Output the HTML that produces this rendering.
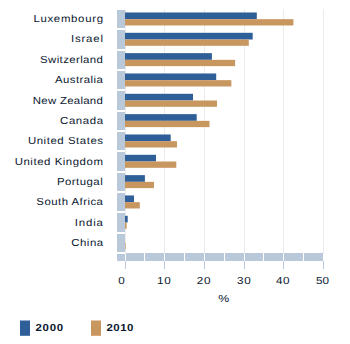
<!DOCTYPE html><html><head><meta charset="utf-8"><style>html,body{margin:0;padding:0;background:#fff;width:350px;height:344px;overflow:hidden}svg{display:block}text{font-family:"Liberation Sans",sans-serif;fill:#0b1830;text-rendering:geometricPrecision}</style></head><body>
<svg width="350" height="344" viewBox="0 0 350 344">
<rect x="125" y="9" width="1" height="245" fill="#ebebeb"/>
<rect x="164" y="9" width="1" height="245" fill="#ebebeb"/>
<rect x="204" y="9" width="1" height="245" fill="#ebebeb"/>
<rect x="244" y="9" width="1" height="245" fill="#ebebeb"/>
<rect x="283" y="9" width="1" height="245" fill="#ebebeb"/>
<rect x="323" y="9" width="1" height="245" fill="#ebebeb"/>
<rect x="117" y="254" width="8" height="7" fill="#b9c9d9"/>
<rect x="126" y="253" width="18" height="8" fill="#b9c9d9"/>
<rect x="145" y="253" width="19" height="8" fill="#b9c9d9"/>
<rect x="165" y="253" width="19" height="8" fill="#b9c9d9"/>
<rect x="185" y="253" width="19" height="8" fill="#b9c9d9"/>
<rect x="205" y="253" width="19" height="8" fill="#b9c9d9"/>
<rect x="225" y="253" width="19" height="8" fill="#b9c9d9"/>
<rect x="245" y="253" width="18" height="8" fill="#b9c9d9"/>
<rect x="264" y="253" width="19" height="8" fill="#b9c9d9"/>
<rect x="284" y="253" width="19" height="8" fill="#b9c9d9"/>
<rect x="304" y="253" width="19" height="8" fill="#b9c9d9"/>
<rect x="125" y="261" width="1" height="8" fill="#b9c9d9"/>
<rect x="164" y="261" width="1" height="8" fill="#b9c9d9"/>
<rect x="204" y="261" width="1" height="8" fill="#b9c9d9"/>
<rect x="244" y="261" width="1" height="8" fill="#b9c9d9"/>
<rect x="283" y="261" width="1" height="8" fill="#b9c9d9"/>
<rect x="323" y="261" width="1" height="8" fill="#b9c9d9"/>
<rect x="117" y="10" width="8" height="18" fill="#b9c9d9"/>
<rect x="125.00" y="12.47" width="131.80" height="6.70" fill="#2f5f98"/>
<rect x="125.00" y="19.17" width="168.40" height="6.30" fill="#c8965f"/>
<rect x="117" y="30" width="8" height="19" fill="#b9c9d9"/>
<rect x="125.00" y="32.80" width="127.70" height="6.70" fill="#2f5f98"/>
<rect x="125.00" y="39.50" width="123.80" height="6.30" fill="#c8965f"/>
<rect x="117" y="51" width="8" height="18" fill="#b9c9d9"/>
<rect x="125.00" y="53.13" width="86.90" height="6.70" fill="#2f5f98"/>
<rect x="125.00" y="59.83" width="110.10" height="6.30" fill="#c8965f"/>
<rect x="117" y="71" width="8" height="18" fill="#b9c9d9"/>
<rect x="125.00" y="73.47" width="91.20" height="6.70" fill="#2f5f98"/>
<rect x="125.00" y="80.17" width="106.35" height="6.30" fill="#c8965f"/>
<rect x="117" y="91" width="8" height="19" fill="#b9c9d9"/>
<rect x="125.00" y="93.80" width="68.00" height="6.70" fill="#2f5f98"/>
<rect x="125.00" y="100.50" width="92.00" height="6.30" fill="#c8965f"/>
<rect x="117" y="112" width="8" height="18" fill="#b9c9d9"/>
<rect x="125.00" y="114.13" width="71.70" height="6.70" fill="#2f5f98"/>
<rect x="125.00" y="120.83" width="84.50" height="6.30" fill="#c8965f"/>
<rect x="117" y="132" width="8" height="18" fill="#b9c9d9"/>
<rect x="125.00" y="134.47" width="45.70" height="6.70" fill="#2f5f98"/>
<rect x="125.00" y="141.17" width="52.00" height="6.30" fill="#c8965f"/>
<rect x="117" y="152" width="8" height="19" fill="#b9c9d9"/>
<rect x="125.00" y="154.80" width="31.00" height="6.70" fill="#2f5f98"/>
<rect x="125.00" y="161.50" width="51.30" height="6.30" fill="#c8965f"/>
<rect x="117" y="173" width="8" height="18" fill="#b9c9d9"/>
<rect x="125.00" y="175.13" width="19.90" height="6.70" fill="#2f5f98"/>
<rect x="125.00" y="181.83" width="29.00" height="6.30" fill="#c8965f"/>
<rect x="117" y="193" width="8" height="18" fill="#b9c9d9"/>
<rect x="125.00" y="195.47" width="9.00" height="6.70" fill="#2f5f98"/>
<rect x="125.00" y="202.17" width="14.80" height="6.30" fill="#c8965f"/>
<rect x="117" y="213" width="8" height="19" fill="#b9c9d9"/>
<rect x="125.00" y="215.80" width="2.70" height="6.70" fill="#2f5f98"/>
<rect x="125.00" y="222.50" width="1.60" height="6.30" fill="#c8965f"/>
<rect x="117" y="234" width="8" height="18" fill="#b9c9d9"/>
<rect x="125.00" y="242.83" width="0.60" height="6.30" fill="#c8965f"/>
<text transform="translate(33.42,22.00) scale(1.120,1)" font-size="10.2" textLength="62.16" lengthAdjust="spacing">Luxembourg</text>
<text transform="translate(71.04,42.00) scale(1.120,1)" font-size="10.2" textLength="28.49" lengthAdjust="spacing">Israel</text>
<text transform="translate(40.12,63.00) scale(1.120,1)" font-size="10.2" textLength="56.05" lengthAdjust="spacing">Switzerland</text>
<text transform="translate(55.02,83.00) scale(1.120,1)" font-size="10.2" textLength="42.69" lengthAdjust="spacing">Australia</text>
<text transform="translate(32.86,104.00) scale(1.120,1)" font-size="10.2" textLength="62.47" lengthAdjust="spacing">New Zealand</text>
<text transform="translate(60.06,124.00) scale(1.120,1)" font-size="10.2" textLength="38.39" lengthAdjust="spacing">Canada</text>
<text transform="translate(27.92,144.00) scale(1.120,1)" font-size="10.2" textLength="67.08" lengthAdjust="spacing">United States</text>
<text transform="translate(14.69,165.00) scale(1.120,1)" font-size="10.2" textLength="78.78" lengthAdjust="spacing">United Kingdom</text>
<text transform="translate(56.97,185.00) scale(1.120,1)" font-size="10.2" textLength="40.81" lengthAdjust="spacing">Portugal</text>
<text transform="translate(36.33,205.00) scale(1.120,1)" font-size="10.2" textLength="59.50" lengthAdjust="spacing">South Africa</text>
<text transform="translate(74.63,226.00) scale(1.120,1)" font-size="10.2" textLength="25.26" lengthAdjust="spacing">India</text>
<text transform="translate(71.13,246.00) scale(1.120,1)" font-size="10.2" textLength="28.61" lengthAdjust="spacing">China</text>
<text x="118.38" y="284.00" font-size="10.2" textLength="6.50" lengthAdjust="spacingAndGlyphs">0</text>
<text transform="translate(156.97,284.00) scale(1.150,1)" font-size="10.2" textLength="12.07" lengthAdjust="spacing">10</text>
<text transform="translate(196.70,284.00) scale(1.150,1)" font-size="10.2" textLength="12.14" lengthAdjust="spacing">20</text>
<text transform="translate(237.03,284.00) scale(1.150,1)" font-size="10.2" textLength="12.01" lengthAdjust="spacing">30</text>
<text transform="translate(275.94,284.00) scale(1.150,1)" font-size="10.2" textLength="11.72" lengthAdjust="spacing">40</text>
<text transform="translate(316.05,284.00) scale(1.150,1)" font-size="10.2" textLength="11.35" lengthAdjust="spacing">50</text>
<text x="218.16" y="302.00" font-size="10.2" textLength="10.99" lengthAdjust="spacingAndGlyphs">%</text>
<text transform="translate(35.52,331.00) scale(1.120,1)" font-size="10.2" font-weight="bold" textLength="24.68" lengthAdjust="spacing">2000</text>
<text transform="translate(106.54,331.00) scale(1.120,1)" font-size="10.2" font-weight="bold" textLength="23.89" lengthAdjust="spacing">2010</text>
<rect x="20" y="320.5" width="10" height="15.3" fill="#2f5f98"/>
<rect x="91" y="320.5" width="10" height="15.3" fill="#c8965f"/>
</svg></body></html>
